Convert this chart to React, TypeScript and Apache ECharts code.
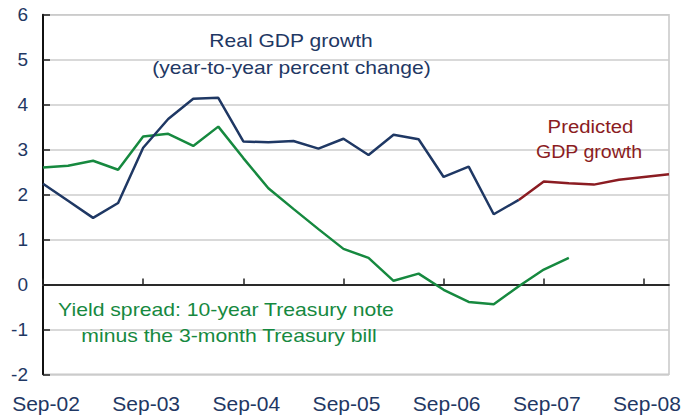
import React, { useEffect, useRef } from "react";
import * as echarts from "echarts";

const quarters = [
  "Sep-02", "Dec-02", "Mar-03", "Jun-03",
  "Sep-03", "Dec-03", "Mar-04", "Jun-04",
  "Sep-04", "Dec-04", "Mar-05", "Jun-05",
  "Sep-05", "Dec-05", "Mar-06", "Jun-06",
  "Sep-06", "Dec-06", "Mar-07", "Jun-07",
  "Sep-07", "Dec-07", "Mar-08", "Jun-08",
  "Sep-08", "Dec-08",
];

const gdpGrowth = [
  2.24, 1.86, 1.48, 1.81, 3.04, 3.68, 4.13, 4.15, 3.18, 3.16, 3.19, 3.02,
  3.24, 2.88, 3.33, 3.23, 2.39, 2.62, 1.56, 1.88,
  null, null, null, null, null, null,
];

const predictedGdp = [
  null, null, null, null, null, null, null, null, null, null, null, null,
  null, null, null, null, null, null, null,
  1.88, 2.29, 2.25, 2.22, 2.33, 2.39, 2.45,
];

const yieldSpread = [
  2.6, 2.64, 2.75, 2.55, 3.29, 3.35, 3.08, 3.51, 2.81, 2.14, 1.68, 1.23,
  0.79, 0.59, 0.08, 0.24, -0.12, -0.39, -0.44, -0.04, 0.33, 0.59,
  null, null, null, null,
];

const yMin = -2;
const yMax = 6;

const NAVY = "#1f3864";
const GREEN = "#16893f";
const RED = "#8b1c22";
const FONT = "'Liberation Sans', Arial, sans-serif";

export default function App() {
  const ref = useRef<HTMLDivElement>(null);

  useEffect(() => {
    document.body.style.margin = "0";
    if (!ref.current) return;
    const chart = echarts.init(ref.current, null, { renderer: "svg" });

    const annot = (text: string, x: number, y: number, color: string, size: number, sx: number) => ({
      type: "text",
      x,
      y,
      scaleX: sx,
      z: 100,
      style: {
        text,
        fill: color,
        font: `${size}px ${FONT}`,
        textAlign: "center",
        textVerticalAlign: "middle",
      },
    });

    chart.setOption({
      animation: false,
      backgroundColor: "#ffffff",
      textStyle: { fontFamily: FONT },
      grid: {
        left: 43,
        right: 16,
        top: 14.7,
        bottom: 40.7,
        show: true,
        borderColor: "#c8c8c8",
        borderWidth: 1.5,
        outerBoundsMode: "none",
        containLabel: false,
      },
      xAxis: {
        type: "category",
        data: quarters,
        boundaryGap: false,
        axisLine: { show: true, lineStyle: { color: "#444", width: 2 } },
        axisTick: { show: true, inside: true, length: 6, interval: 3, lineStyle: { color: "#222", width: 1.5 } },
        axisLabel: {
          interval: 3,
          color: NAVY,
          fontSize: 21,
          fontFamily: FONT,
          margin: 19,
          padding: [0, 0, 0, 6],
        },
        splitLine: { show: false },
      },
      yAxis: {
        type: "value",
        min: yMin,
        max: yMax,
        interval: 1,
        axisLine: { show: true, lineStyle: { color: "#111", width: 2 } },
        axisTick: { show: true, inside: true, length: 7, lineStyle: { color: "#222", width: 1.5 } },
        axisLabel: {
          color: NAVY,
          fontSize: 19,
          fontFamily: FONT,
          margin: 15,
          padding: [4, 0, 0, 0],
        },
        splitLine: { show: true, lineStyle: { color: "#cccccc", width: 1.5 } },
      },
      series: [
        {
          name: "Yield spread",
          type: "line",
          data: yieldSpread,
          symbol: "none",
          connectNulls: false,
          lineStyle: { color: GREEN, width: 2.5 },
          z: 3,
          markLine: {
            silent: true,
            symbol: "none",
            label: { show: false },
            lineStyle: { color: "#222", width: 1.5, type: "solid" },
            data: [{ yAxis: 0 }],
            z: 1,
          },
        },
        {
          name: "Real GDP growth",
          type: "line",
          data: gdpGrowth,
          symbol: "none",
          lineStyle: { color: NAVY, width: 2.5 },
          z: 4,
        },
        {
          name: "Predicted GDP growth",
          type: "line",
          data: predictedGdp,
          symbol: "none",
          lineStyle: { color: RED, width: 2.5 },
          z: 4,
        },
      ],
      graphic: [
        annot("Real GDP growth", 291, 41, NAVY, 18, 1.17),
        annot("(year-to-year percent change)", 291.5, 68, NAVY, 18, 1.17),
        annot("Yield spread: 10-year Treasury note", 226, 309, GREEN, 19, 1.115),
        annot("minus the 3-month Treasury bill", 229, 335, GREEN, 19, 1.115),
        annot("Predicted", 590.5, 126, RED, 19, 1.07),
        annot("GDP growth", 589, 152, RED, 19, 1.03),
      ],
    });

    return () => chart.dispose();
  }, []);

  return <div ref={ref} style={{ width: 685, height: 415 }} />;
}
